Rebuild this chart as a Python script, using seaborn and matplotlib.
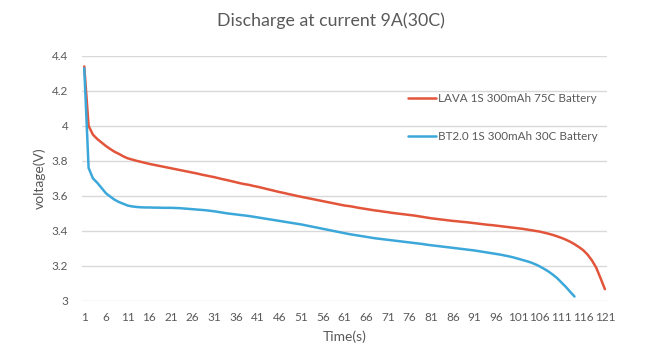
import numpy as np
import pandas as pd
import seaborn as sns
import matplotlib.pyplot as plt

# discharge curves, one value per second
lava_v = [4.340, 4.000, 3.950, 3.925, 3.905, 3.885, 3.868, 3.852, 3.840, 3.826,
          3.815, 3.808, 3.801, 3.795, 3.789, 3.783, 3.778, 3.773, 3.768, 3.763,
          3.758, 3.753, 3.748, 3.743, 3.738, 3.733, 3.728, 3.722, 3.717, 3.712,
          3.707, 3.701, 3.695, 3.690, 3.684, 3.678, 3.672, 3.667, 3.663, 3.657,
          3.652, 3.646, 3.640, 3.634, 3.628, 3.622, 3.617, 3.611, 3.606, 3.600,
          3.595, 3.590, 3.585, 3.580, 3.575, 3.570, 3.565, 3.560, 3.555, 3.550,
          3.545, 3.542, 3.538, 3.533, 3.529, 3.525, 3.521, 3.517, 3.514, 3.510,
          3.507, 3.503, 3.500, 3.497, 3.494, 3.491, 3.488, 3.484, 3.480, 3.476,
          3.472, 3.469, 3.466, 3.463, 3.460, 3.457, 3.455, 3.452, 3.450, 3.447,
          3.444, 3.441, 3.438, 3.435, 3.433, 3.430, 3.427, 3.424, 3.421, 3.418,
          3.415, 3.412, 3.408, 3.404, 3.400, 3.396, 3.390, 3.384, 3.377, 3.369,
          3.360, 3.350, 3.338, 3.324, 3.308, 3.290, 3.265, 3.232, 3.190, 3.130,
          3.067]

bt_v = [4.330, 3.760, 3.700, 3.675, 3.645, 3.615, 3.596, 3.578, 3.565, 3.555,
        3.545, 3.540, 3.537, 3.535, 3.534, 3.534, 3.533, 3.533, 3.532, 3.532,
        3.532, 3.531, 3.530, 3.528, 3.526, 3.524, 3.522, 3.520, 3.518, 3.515,
        3.512, 3.508, 3.504, 3.500, 3.497, 3.494, 3.491, 3.488, 3.485, 3.481,
        3.477, 3.473, 3.469, 3.465, 3.461, 3.457, 3.453, 3.449, 3.445, 3.441,
        3.437, 3.432, 3.427, 3.422, 3.417, 3.412, 3.407, 3.402, 3.397, 3.392,
        3.387, 3.382, 3.378, 3.374, 3.370, 3.366, 3.362, 3.358, 3.355, 3.352,
        3.349, 3.346, 3.343, 3.340, 3.337, 3.334, 3.331, 3.328, 3.325, 3.321,
        3.318, 3.315, 3.312, 3.309, 3.306, 3.303, 3.300, 3.297, 3.294, 3.291,
        3.288, 3.284, 3.280, 3.276, 3.272, 3.268, 3.264, 3.259, 3.254, 3.248,
        3.241, 3.234, 3.227, 3.219, 3.209, 3.197, 3.183, 3.168, 3.150, 3.130,
        3.105, 3.080, 3.052, 3.025]

series_names = ["LAVA 1S 300mAh 75C Battery", "BT2.0 1S 300mAh 30C Battery"]
x_ticks = list(range(1, 122, 5))
y_ticks = [3, 3.2, 3.4, 3.6, 3.8, 4, 4.2, 4.4]
y_tick_labels = ["3", "3.2", "3.4", "3.6", "3.8", "4", "4.2", "4.4"]

df = pd.concat([
    pd.DataFrame({"t": np.arange(1, len(lava_v) + 1), "v": lava_v, "battery": series_names[0]}),
    pd.DataFrame({"t": np.arange(1, len(bt_v) + 1), "v": bt_v, "battery": series_names[1]}),
])

sns.set_style("white")
plt.rcParams['font.family'] = ['Lato', 'DejaVu Sans']
txt = "#595959"

fig = plt.figure(figsize=(6.62, 3.54), dpi=100)
ax = fig.add_axes([0.124, 0.150, 0.793, 0.692])

sns.lineplot(data=df, x="t", y="v", hue="battery", ax=ax,
             palette=["#E2553A", "#3CA8DA"], linewidth=1.8)

ax.set_xlim(0.5, 121.5)
ax.set_ylim(3, 4.4)
ax.set_xticks(x_ticks)
ax.set_yticks(y_ticks)
ax.set_yticklabels(y_tick_labels)
ax.tick_params(axis="both", length=0, labelsize=8.5, colors=txt)
ax.tick_params(axis="x", pad=8)
ax.tick_params(axis="y", pad=10)
ax.grid(axis="y", color="#D9D9D9", linewidth=1)
ax.set_axisbelow(True)
for s in ax.spines.values():
    s.set_visible(False)

ax.set_xlabel("Time(s)", fontsize=10, color=txt, labelpad=5)
ax.set_ylabel("voltage(V)", fontsize=10, color=txt, labelpad=4)
fig.suptitle("Discharge at current 9A(30C)", fontsize=12.8, color=txt, y=0.965)

leg = ax.legend(loc="upper left", bbox_to_anchor=(0.6, 0.89), frameon=False,
                fontsize=8.4, handlelength=2.4, handletextpad=0.2, labelspacing=2.3)
for t in leg.get_texts():
    t.set_color(txt)

fig.savefig("out.png", dpi=100)
